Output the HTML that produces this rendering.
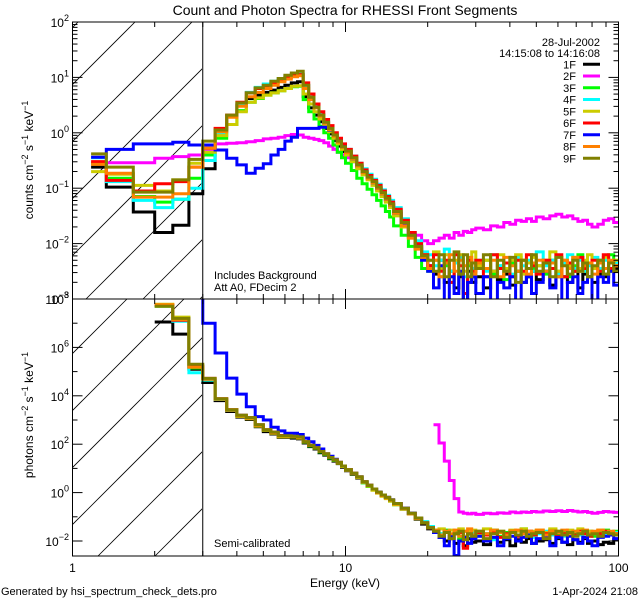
<!DOCTYPE html>
<html><head><meta charset="utf-8"><style>
html,body{margin:0;padding:0;background:#fff;}
svg{display:block;font-family:"Liberation Sans",sans-serif;}
</style></head><body>
<svg id="chart" width="640" height="600" viewBox="0 0 640 600" xmlns="http://www.w3.org/2000/svg">
<rect width="640" height="600" fill="#fff"/>
<defs>
<clipPath id="clipTop"><rect x="72.5" y="22" width="546" height="277"/></clipPath>
<clipPath id="clipBot"><rect x="72.5" y="299" width="546" height="257"/></clipPath>
<clipPath id="hatchTop"><rect x="72.5" y="22" width="129.5" height="277"/></clipPath>
<clipPath id="hatchBot"><rect x="72.5" y="299" width="129.5" height="257"/></clipPath>
</defs>
<text x="345" y="15" font-size="14" text-anchor="middle">Count and Photon Spectra for RHESSI Front Segments</text>
<g id="hatch"></g>
<g id="series"></g>
<g id="axes"></g>
<text transform="translate(33,160) rotate(-90)" font-size="12" text-anchor="middle">counts cm<tspan font-size="9" dy="-5">−2</tspan><tspan dy="5"> s</tspan><tspan font-size="9" dy="-5">−1</tspan><tspan dy="5">  keV</tspan><tspan font-size="9" dy="-5">−1</tspan></text>
<text transform="translate(33,415) rotate(-90)" font-size="12" text-anchor="middle">photons cm<tspan font-size="9" dy="-5">−2</tspan><tspan dy="5"> s</tspan><tspan font-size="9" dy="-5">−1</tspan><tspan dy="5">  keV</tspan><tspan font-size="9" dy="-5">−1</tspan></text>
<text x="345" y="587" font-size="12" text-anchor="middle">Energy (keV)</text>
<text x="1" y="595" font-size="11">Generated by hsi_spectrum_check_dets.pro</text>
<text x="638" y="595" font-size="11" text-anchor="end">1-Apr-2024 21:08</text>
<text x="214" y="279" font-size="11">Includes Background</text>
<text x="214" y="291" font-size="11">Att A0, FDecim 2</text>
<text x="214" y="547" font-size="11">Semi-calibrated</text>
<text x="600" y="46" font-size="11" text-anchor="end">28-Jul-2002</text>
<text x="600" y="57" font-size="11" text-anchor="end">14:15:08 to 14:16:08</text>
<g id="legend"></g>
</svg>
<script>
const NS='http://www.w3.org/2000/svg';
const edges=[1.17,1.33,1.67,2,2.33,2.67,3,3.33,3.67,4,4.33,4.67,5,5.33,5.67,6,6.33,6.67,7,7.33,7.67,8,8.33,8.67,9,9.33,9.67,10,10.5,11,11.5,12,12.5,13,13.5,14,14.5,15,16,17,18,19,20,21,22,23,24,25,26,27,28,29,30,32,34,36,38,40,42,44,46,48,50,53,56,59,62,65,68,71,74,77,80,84,88,92,96,100];
const detectors=['1F','2F','3F','4F','5F','6F','7F','8F','9F'];
const colors=['#000000','#ff00ff','#00ff00','#00ffff','#cccc00','#ff0000','#0000ff','#ff8000','#808000'];
// top panel: log10(counts cm^-2 s^-1 keV^-1)
const count1F=[-0.62,-0.98,-1.43,-1.8,-1.67,-1.1,-0.65,0.05,0.3,0.5,0.62,0.68,0.73,0.77,0.82,0.86,0.9,0.92,0.65,0.45,0.32,0.2,0.08,-0.02,-0.14,-0.24,-0.34,-0.42,-0.52,-0.62,-0.72,-0.82,-0.92,-1.02,-1.12,-1.22,-1.32,-1.45,-1.65,-1.88,-2.08,-2.25,-2.4,-2.55,-2.3,-2.7,-2.5,-2.8,-2.6,-3.1,-2.5,-2.7,-2.6,-2.8,-2.5,-2.65,-2.55,-2.75,-2.5,-2.7,-2.6,-2.5,-2.65,-2.5,-2.75,-2.55,-2.6,-2.7,-2.5,-2.8,-2.55,-2.6,-2.7,-2.55,-2.6,-2.5,-2.45];
const count2F=[-0.55,-0.54,-0.54,-0.46,-0.43,-0.4,-0.3,-0.2,-0.19,-0.18,-0.16,-0.14,-0.11,-0.1,-0.08,-0.05,-0.03,-0.04,-0.08,-0.1,-0.12,-0.14,-0.18,-0.24,-0.3,-0.35,-0.4,-0.45,-0.52,-0.6,-0.7,-0.8,-0.88,-0.98,-1.08,-1.18,-1.28,-1.4,-1.6,-1.8,-1.85,-1.95,-2.0,-1.95,-1.9,-1.85,-1.9,-1.8,-1.85,-1.78,-1.8,-1.75,-1.72,-1.75,-1.68,-1.7,-1.62,-1.65,-1.58,-1.6,-1.55,-1.6,-1.52,-1.55,-1.5,-1.47,-1.52,-1.5,-1.55,-1.6,-1.58,-1.65,-1.7,-1.65,-1.58,-1.55,-1.62];
const count3F=[-0.55,-0.82,-1.15,-1.25,-1.2,-0.82,-0.4,-0.1,0.15,0.4,0.55,0.62,0.68,0.72,0.76,0.8,0.83,0.84,0.6,0.38,0.25,0.12,0.0,-0.1,-0.22,-0.35,-0.45,-0.55,-0.68,-0.82,-0.92,-1.02,-1.12,-1.22,-1.32,-1.42,-1.52,-1.68,-1.85,-2.05,-2.25,-2.45,-2.5,-2.3,-2.6,-2.4,-2.7,-2.35,-2.55,-2.9,-2.4,-2.6,-2.45,-2.3,-2.55,-2.4,-2.65,-2.35,-2.5,-2.3,-2.6,-2.45,-2.4,-2.55,-2.3,-2.5,-2.35,-2.6,-2.4,-2.2,-2.5,-2.35,-2.45,-2.3,-2.55,-2.2,-2.4];
const count4F=[-0.45,-0.88,-1.22,-1.35,-1.2,-1.0,-0.5,-0.02,0.3,0.52,0.73,0.82,0.88,0.93,0.98,1.02,1.05,1.06,0.85,0.65,0.48,0.33,0.2,0.1,-0.02,-0.12,-0.22,-0.3,-0.42,-0.55,-0.65,-0.75,-0.84,-0.93,-1.03,-1.13,-1.22,-1.35,-1.55,-1.8,-1.95,-2.15,-2.2,-2.4,-2.3,-2.1,-2.5,-2.35,-2.25,-2.6,-2.3,-2.45,-2.3,-2.5,-2.2,-2.4,-2.35,-2.55,-2.25,-2.4,-2.3,-2.5,-2.15,-2.4,-2.3,-2.55,-2.35,-2.2,-2.45,-2.3,-2.5,-2.4,-2.25,-2.45,-2.3,-2.5,-2.35];
const count5F=[-0.7,-0.75,-0.95,-1.05,-0.85,-0.55,-0.35,-0.05,0.15,0.38,0.55,0.63,0.68,0.72,0.76,0.8,0.84,0.85,0.7,0.52,0.38,0.25,0.12,0.02,-0.1,-0.2,-0.3,-0.4,-0.52,-0.65,-0.76,-0.85,-0.95,-1.05,-1.15,-1.25,-1.35,-1.5,-1.7,-1.9,-2.05,-2.2,-2.3,-2.15,-2.45,-2.2,-2.6,-2.3,-2.2,-2.5,-2.35,-2.15,-2.4,-2.3,-2.5,-2.2,-2.45,-2.3,-2.2,-2.55,-2.35,-2.25,-2.4,-2.3,-2.15,-2.5,-2.3,-2.4,-2.25,-2.45,-2.3,-2.2,-2.45,-2.35,-2.25,-2.5,-2.3];
const count6F=[-0.52,-0.86,-1.05,-0.92,-0.88,-0.62,-0.28,0.08,0.32,0.55,0.72,0.8,0.85,0.9,0.95,1.0,1.04,1.05,0.9,0.7,0.52,0.38,0.24,0.13,0.0,-0.1,-0.2,-0.3,-0.42,-0.55,-0.67,-0.77,-0.86,-0.95,-1.05,-1.15,-1.25,-1.38,-1.58,-1.8,-2.0,-2.2,-2.4,-2.2,-2.5,-2.3,-2.7,-2.2,-2.4,-2.9,-2.3,-2.5,-2.3,-2.6,-2.2,-2.45,-2.35,-2.6,-2.3,-2.5,-2.2,-2.4,-2.55,-2.3,-2.45,-2.2,-2.6,-2.35,-2.5,-2.25,-2.45,-2.6,-2.3,-2.5,-2.2,-2.45,-2.4];
const count7F=[-0.44,-0.3,-0.2,-0.2,-0.17,-0.22,-0.22,-0.31,-0.46,-0.58,-0.73,-0.64,-0.56,-0.4,-0.3,-0.15,-0.08,0.08,0.08,0.08,0.08,0.1,0.1,0.05,-0.05,-0.15,-0.25,-0.35,-0.47,-0.6,-0.7,-0.8,-0.9,-1.0,-1.1,-1.2,-1.3,-1.45,-1.65,-1.85,-2.05,-2.3,-2.5,-2.8,-2.4,-3.2,-2.6,-2.9,-2.5,-3.3,-2.7,-2.6,-2.9,-2.6,-3.2,-2.7,-2.8,-2.6,-3.3,-2.7,-2.6,-2.9,-2.7,-2.5,-2.8,-2.6,-3.2,-2.7,-2.6,-2.9,-2.7,-2.6,-3.3,-2.6,-2.7,-2.5,-2.75];
const count8F=[-0.57,-0.73,-1.16,-1.16,-1.1,-0.62,-0.28,0.02,0.28,0.48,0.65,0.73,0.8,0.86,0.92,0.97,1.01,1.03,0.8,0.6,0.45,0.3,0.17,0.06,-0.06,-0.17,-0.26,-0.36,-0.47,-0.6,-0.72,-0.82,-0.9,-1.0,-1.1,-1.2,-1.3,-1.45,-1.68,-1.9,-2.1,-2.25,-2.45,-2.3,-2.6,-2.35,-2.2,-2.5,-2.3,-2.4,-2.25,-2.55,-2.35,-2.45,-2.3,-2.6,-2.25,-2.4,-2.5,-2.3,-2.55,-2.35,-2.3,-2.5,-2.35,-2.6,-2.3,-2.45,-2.25,-2.5,-2.4,-2.35,-2.55,-2.35,-2.45,-2.3,-2.4];
const count9F=[-0.38,-0.62,-1.07,-1.07,-0.85,-0.48,-0.15,0.05,0.32,0.54,0.72,0.81,0.86,0.93,0.98,1.04,1.08,1.11,0.86,0.64,0.46,0.32,0.19,0.08,-0.04,-0.15,-0.25,-0.33,-0.45,-0.58,-0.7,-0.8,-0.88,-0.98,-1.08,-1.18,-1.28,-1.42,-1.62,-1.85,-2.05,-2.22,-2.3,-2.5,-2.2,-2.6,-2.3,-2.15,-2.55,-2.2,-2.6,-2.35,-2.45,-2.2,-2.6,-2.3,-2.5,-2.25,-2.7,-2.3,-2.45,-2.2,-2.5,-2.35,-2.6,-2.25,-2.4,-2.55,-2.3,-2.5,-2.35,-2.6,-2.4,-2.3,-2.55,-2.35,-2.5];
// bottom panel: log10(photons cm^-2 s^-1 keV^-1)
const N=null;
const phot1F=[N,N,N,7.05,6.55,5.1,4.55,3.8,3.35,3.12,3.02,2.72,2.52,2.42,2.28,2.28,2.25,2.22,2.05,1.9,1.8,1.65,1.55,1.4,1.3,1.2,1.05,0.9,0.75,0.6,0.42,0.27,0.12,0.0,-0.12,-0.22,-0.33,-0.48,-0.68,-0.88,-1.1,-1.3,-1.5,-1.65,-1.85,-2.0,-1.9,-2.1,-1.95,-2.2,-1.9,-2.05,-2.0,-2.15,-1.9,-2.05,-1.95,-2.2,-1.95,-2.05,-1.9,-2.1,-2.0,-1.95,-2.1,-1.9,-2.05,-2.15,-1.95,-2.05,-1.9,-2.1,-2.0,-2.15,-2.05,-2.1,-1.95];
const phot2F=[N,N,N,N,N,N,N,N,N,N,N,N,N,N,N,N,N,N,N,N,N,N,N,N,N,N,N,N,N,N,N,N,N,N,N,N,N,N,N,N,N,N,N,2.8,2.05,1.3,0.5,-0.25,-0.8,-0.85,-0.88,-0.85,-0.9,-0.85,-0.87,-0.84,-0.85,-0.8,-0.83,-0.8,-0.82,-0.78,-0.8,-0.76,-0.78,-0.75,-0.78,-0.74,-0.77,-0.8,-0.78,-0.82,-0.85,-0.82,-0.78,-0.8,-0.82];
const phot3F=[N,N,N,7.7,7.1,5.15,4.65,3.85,3.4,3.18,3.08,2.78,2.58,2.48,2.33,2.33,2.3,2.28,2.08,1.93,1.83,1.68,1.58,1.43,1.33,1.23,1.08,0.93,0.78,0.63,0.4,0.25,0.12,0.0,-0.12,-0.22,-0.35,-0.5,-0.68,-0.85,-1.05,-1.25,-1.45,-1.6,-1.7,-1.55,-1.8,-1.65,-1.9,-1.6,-1.75,-1.85,-1.6,-1.7,-1.55,-1.8,-1.65,-1.6,-1.75,-1.5,-1.7,-1.65,-1.6,-1.8,-1.55,-1.7,-1.6,-1.75,-1.65,-1.55,-1.7,-1.6,-1.8,-1.65,-1.55,-1.7,-1.6];
const phot4F=[N,N,N,7.72,7.08,4.95,4.65,3.85,3.4,3.2,3.1,2.8,2.6,2.5,2.35,2.35,2.33,2.3,2.1,1.95,1.85,1.7,1.6,1.45,1.35,1.25,1.1,0.95,0.8,0.65,0.45,0.3,0.15,0.02,-0.1,-0.2,-0.3,-0.45,-0.65,-0.85,-1.05,-1.2,-1.4,-1.55,-1.7,-1.6,-1.85,-1.7,-1.6,-1.9,-1.75,-1.65,-1.8,-1.7,-1.95,-1.65,-1.75,-1.6,-1.8,-1.7,-1.65,-1.85,-1.7,-1.6,-1.75,-1.65,-1.8,-1.7,-1.6,-1.75,-1.85,-1.7,-1.65,-1.8,-1.7,-1.75,-1.65];
const phot5F=[N,N,N,7.78,7.25,5.25,4.7,3.87,3.42,3.15,3.05,2.75,2.58,2.45,2.3,2.3,2.3,2.25,2.1,1.95,1.85,1.7,1.6,1.45,1.35,1.22,1.08,0.92,0.78,0.62,0.42,0.27,0.1,-0.02,-0.15,-0.25,-0.35,-0.5,-0.68,-0.88,-1.08,-1.25,-1.45,-1.55,-1.5,-1.65,-1.55,-1.7,-1.5,-1.8,-1.6,-1.55,-1.7,-1.5,-1.65,-1.6,-1.75,-1.55,-1.6,-1.5,-1.7,-1.6,-1.55,-1.65,-1.5,-1.6,-1.7,-1.55,-1.6,-1.5,-1.65,-1.6,-1.7,-1.55,-1.6,-1.65,-1.7];
const phot6F=[N,N,N,7.74,7.12,5.2,4.72,3.88,3.42,3.2,3.1,2.8,2.6,2.5,2.36,2.35,2.33,2.3,2.1,1.95,1.85,1.7,1.6,1.45,1.35,1.25,1.1,0.95,0.8,0.65,0.45,0.3,0.15,0.02,-0.1,-0.2,-0.3,-0.45,-0.65,-0.85,-1.05,-1.25,-1.45,-1.6,-1.75,-1.6,-1.9,-1.7,-1.65,-2.3,-1.7,-1.8,-1.65,-1.75,-1.6,-1.85,-1.7,-1.6,-1.8,-1.7,-1.6,-1.75,-1.65,-1.7,-1.6,-1.8,-1.7,-1.65,-1.75,-1.6,-1.7,-1.8,-1.65,-1.7,-1.6,-1.75,-1.7];
const phot7F=[N,N,N,N,N,8.3,7.0,5.77,4.73,4.07,3.55,3.14,3.0,2.7,2.55,2.45,2.45,2.4,2.25,2.1,1.95,1.8,1.6,1.5,1.38,1.25,1.1,0.95,0.8,0.65,0.45,0.3,0.15,0.02,-0.1,-0.2,-0.3,-0.45,-0.65,-0.85,-1.05,-1.25,-1.45,-1.65,-1.85,-2.2,-1.8,-2.6,-2.0,-1.85,-2.1,-1.9,-1.8,-2.0,-1.85,-2.2,-1.9,-1.8,-2.0,-1.85,-1.75,-2.1,-1.9,-1.8,-2.2,-1.85,-2.05,-1.8,-1.95,-2.1,-1.85,-2.0,-2.2,-1.85,-1.8,-1.75,-1.9];
const phot8F=[N,N,N,7.76,7.15,5.18,4.68,3.86,3.4,3.18,3.08,2.78,2.6,2.48,2.34,2.34,2.32,2.28,2.1,1.95,1.85,1.7,1.6,1.45,1.35,1.25,1.1,0.95,0.8,0.65,0.45,0.3,0.15,0.0,-0.12,-0.22,-0.32,-0.47,-0.67,-0.87,-1.07,-1.25,-1.45,-1.55,-1.75,-1.6,-1.7,-1.55,-1.8,-1.6,-1.5,-1.75,-1.6,-1.7,-1.55,-1.65,-1.75,-1.6,-1.55,-1.7,-1.6,-1.65,-1.55,-1.75,-1.6,-1.65,-1.55,-1.7,-1.6,-1.65,-1.55,-1.7,-1.6,-1.55,-1.65,-1.6,-1.7];
const phot9F=[N,N,N,7.7,7.2,5.3,4.72,3.88,3.42,3.2,3.1,2.8,2.6,2.5,2.35,2.35,2.33,2.3,2.1,1.95,1.85,1.7,1.6,1.45,1.35,1.25,1.1,0.95,0.8,0.65,0.45,0.3,0.15,0.02,-0.1,-0.2,-0.3,-0.45,-0.65,-0.85,-1.05,-1.25,-1.45,-1.6,-1.8,-1.65,-1.9,-1.7,-1.6,-1.95,-1.7,-1.8,-1.6,-1.9,-1.7,-1.6,-1.85,-1.65,-1.75,-1.6,-1.8,-1.7,-1.65,-1.9,-1.7,-1.6,-1.75,-1.65,-1.8,-1.7,-1.6,-1.75,-1.7,-1.8,-1.65,-1.7,-1.75];
const countSeries=[count1F,count2F,count3F,count4F,count5F,count6F,count7F,count8F,count9F];
const photSeries=[phot1F,phot2F,phot3F,phot4F,phot5F,phot6F,phot7F,phot8F,phot9F];
const xTickMajor=[1,10,100];
const xTickLabels=['1','10','100'];
const topDecades=[2,1,0,-1,-2,-3];
const botDecades=[8,7,6,5,4,3,2,1,0,-1,-2];
const botLabelDecades=[8,6,4,2,0,-2];

const L=72.5,R=618.5,TT=22,TB=299,BT=299,BB=556;
const xS=e=>L+(R-L)*Math.log10(e)/2;
const yTop=v=>TT+(2-v)*(TB-TT)/5;
const yBot=v=>BT+(8-v)*24.2;

const svg=document.getElementById('chart');
const gS=document.getElementById('series');
const gA=document.getElementById('axes');
const gH=document.getElementById('hatch');
const gL=document.getElementById('legend');
function mk(tag,attrs,parent){const el=document.createElementNS(NS,tag);for(const k in attrs)el.setAttribute(k,attrs[k]);parent.appendChild(el);return el;}

function hatch(clip,yTopEdge,yBotEdge,c0,name){
  const g=mk('g',{'clip-path':'url(#'+clip+')'},gH);
  
  
  for(let k=-10;k<20;k++){
    const c=c0+k*57;
    const l=mk('line',{x1:c-yBotEdge,y1:yBotEdge,x2:c-yTopEdge,y2:yTopEdge,stroke:'#000','stroke-width':0.8},g);
    
    
  }
}
hatch('hatchTop',TT,TB,157,'top-hatch');
hatch('hatchBot',BT,BB,654,'bottom-hatch');

function stepPath(vals,yf){
  let d='',open=false;
  for(let i=0;i<vals.length;i++){
    const v=vals[i];
    if(v===null||v===undefined){open=false;continue;}
    const x0=xS(edges[i]),x1=xS(edges[i+1]),y=yf(v);
    if(!open){d+='M'+x0.toFixed(1)+' '+y.toFixed(1);open=true;}
    else d+='L'+x0.toFixed(1)+' '+y.toFixed(1);
    d+='L'+x1.toFixed(1)+' '+y.toFixed(1);
  }
  return d;
}
const gTop=mk('g',{'clip-path':'url(#clipTop)'},gS);


const gBot=mk('g',{'clip-path':'url(#clipBot)'},gS);


for(let s=0;s<detectors.length;s++){
  const p=mk('path',{d:stepPath(countSeries[s],yTop),fill:'none',stroke:colors[s],'stroke-width':3,'stroke-linejoin':'miter'},gTop);
  
  
  const q=mk('path',{d:stepPath(photSeries[s],yBot),fill:'none',stroke:colors[s],'stroke-width':3,'stroke-linejoin':'miter'},gBot);
  
  
}

const f1=mk('rect',{x:L,y:TT,width:R-L,height:TB-TT,fill:'none',stroke:'#000','stroke-width':1},gA);


const f2=mk('rect',{x:L,y:BT,width:R-L,height:BB-BT,fill:'none',stroke:'#000','stroke-width':1},gA);


const v1=mk('line',{x1:xS(3),y1:TT,x2:xS(3),y2:BB,stroke:'#000','stroke-width':1},gA);



function tick(x1,y1,x2,y2){const t=mk('line',{x1,y1,x2,y2,stroke:'#000','stroke-width':1},gA);
  
  }
for(let d=0;d<2;d++){
  for(let m=1;m<10;m++){
    const e=Math.pow(10,d)*m;const x=xS(e);const len=m===1?10:5;
    if(m===1&&d===0)continue;
    tick(x,TT,x,TT+len);tick(x,TB,x,TB-len);tick(x,BT,x,BT+len);tick(x,BB,x,BB-len);
  }
}
xTickMajor.forEach((e,i)=>{
  const t=mk('text',{x:xS(e),y:572,'font-size':12,'text-anchor':'middle'},gA);
  t.textContent=xTickLabels[i];
  
  
});
topDecades.forEach(dv=>{
  const y=yTop(dv);
  tick(L,y,L+10,y);tick(R,y,R-10,y);
  if(dv>-3){for(let m=2;m<10;m++){const yy=yTop(dv-1+Math.log10(m));tick(L,yy,L+5,yy);tick(R,yy,R-5,yy);}}
  const t=mk('text',{x:69,y:y+5,'font-size':12,'text-anchor':'end'},gA);
  t.textContent='10';
  const sp=mk('tspan',{'font-size':9,dy:-6},t);sp.textContent=dv<0?'−'+(-dv):String(dv);
  
  
});
botDecades.forEach(dv=>{
  const y=yBot(dv);const major=botLabelDecades.indexOf(dv)>=0;const len=major?10:5;
  tick(L,y,L+len,y);tick(R,y,R-len,y);
  if(major){
    const t=mk('text',{x:69,y:y+5,'font-size':12,'text-anchor':'end'},gA);
    t.textContent='10';
    const sp=mk('tspan',{'font-size':9,dy:-6},t);sp.textContent=dv<0?'−'+(-dv):String(dv);
    
    
  }
});
detectors.forEach((d,i)=>{
  const y=64.3+i*11.75;
  const t=mk('text',{x:576,y:y+4,'font-size':11,'text-anchor':'end'},gL);
  t.textContent=d;
  
  
  const l=mk('line',{x1:583,y1:y,x2:600,y2:y,stroke:colors[i],'stroke-width':3},gL);
  
  
});
</script>
</body></html>
